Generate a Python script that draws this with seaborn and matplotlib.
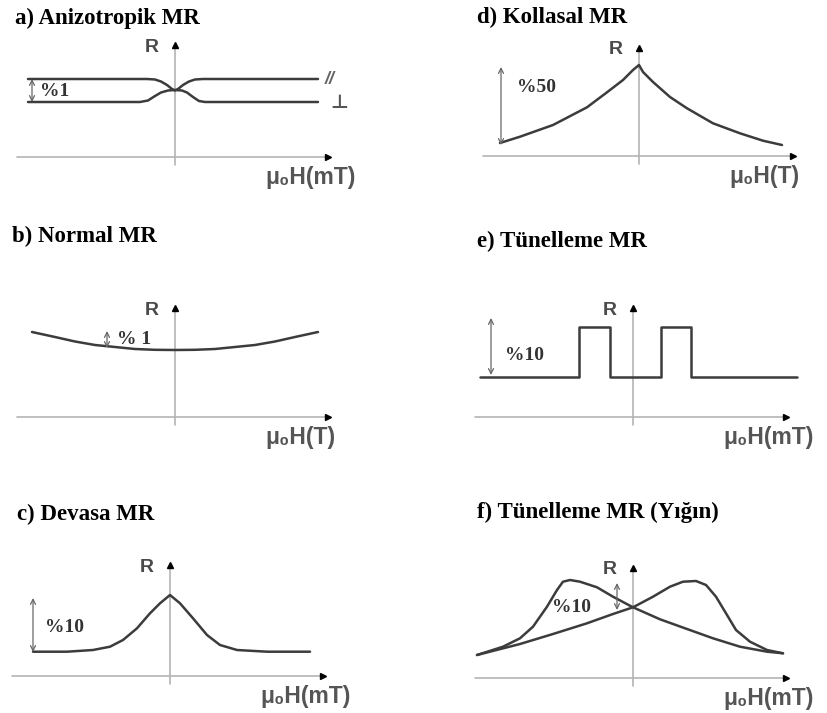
import matplotlib
matplotlib.use('Agg')
import matplotlib.pyplot as plt
import seaborn as sns

# ---- data (field H and resistance R, arbitrary units) ----
# a) anisotropic MR: parallel and perpendicular branches
a_par_h = [-1.47, -0.28, -0.20, -0.14, -0.08, -0.03, 0.0, 0.03, 0.08, 0.14, 0.20, 0.28, 1.43]
a_par_r = [0.78, 0.78, 0.775, 0.755, 0.72, 0.68, 0.665, 0.68, 0.72, 0.755, 0.775, 0.78, 0.78]
a_perp_h = [-1.47, -0.35, -0.27, -0.20, -0.14, -0.07, 0.0, 0.07, 0.12, 0.18, 0.24, 0.30, 1.43]
a_perp_r = [0.55, 0.55, 0.565, 0.61, 0.645, 0.665, 0.67, 0.665, 0.645, 0.60, 0.56, 0.55, 0.55]

# b) ordinary MR
b_h = [-1.43, -1.2, -1.0, -0.8, -0.6, -0.4, -0.2, 0.0, 0.2, 0.4, 0.6, 0.8, 1.0, 1.2, 1.43]
b_r = [0.85, 0.80, 0.755, 0.72, 0.70, 0.68, 0.672, 0.67, 0.672, 0.68, 0.70, 0.72, 0.755, 0.80, 0.85]

# c) giant MR
c_h = [-1.37, -1.03, -0.77, -0.60, -0.47, -0.33, -0.20, -0.10, 0.0,
       0.10, 0.23, 0.37, 0.50, 0.67, 0.97, 1.40]
c_r = [0.243, 0.243, 0.26, 0.293, 0.36, 0.477, 0.627, 0.727, 0.81,
       0.727, 0.577, 0.41, 0.31, 0.26, 0.243, 0.243]

# d) colossal MR
d_h = [-1.39, -1.19, -0.86, -0.52, -0.32, -0.16, -0.06, 0.0,
       0.04, 0.14, 0.31, 0.48, 0.74, 1.01, 1.24, 1.43]
d_r = [0.13, 0.193, 0.31, 0.487, 0.637, 0.76, 0.86, 0.91,
       0.84, 0.74, 0.59, 0.477, 0.327, 0.227, 0.153, 0.11]

# e) tunnelling MR
e_h = [-1.53, -0.54, -0.54, -0.23, -0.23, 0.28, 0.28, 0.58, 0.58, 1.64]
e_r = [0.40, 0.40, 0.90, 0.90, 0.40, 0.40, 0.90, 0.90, 0.40, 0.40]

# f) tunnelling MR (bulk): two sweep directions
f_left_h = [-1.56, -1.30, -1.13, -1.00, -0.86, -0.76, -0.70, -0.63, -0.53, -0.36,
            -0.20, 0.0, 0.27, 0.54, 0.80, 1.07, 1.34, 1.50]
f_left_r = [0.23, 0.313, 0.397, 0.513, 0.713, 0.88, 0.963, 0.98, 0.963, 0.907,
            0.813, 0.707, 0.587, 0.49, 0.397, 0.313, 0.263, 0.247]
f_right_h = [-1.56, -1.13, -0.80, -0.46, -0.20, 0.0, 0.20, 0.37, 0.50, 0.63,
             0.73, 0.83, 0.93, 1.03, 1.17, 1.34, 1.50]
f_right_r = [0.23, 0.34, 0.44, 0.547, 0.64, 0.707, 0.813, 0.913, 0.963, 0.97,
             0.93, 0.813, 0.647, 0.48, 0.363, 0.28, 0.247]

titles = ['a) Anizotropik MR', 'b) Normal MR', 'c) Devasa MR',
          'd) Kollasal MR', 'e) Tünelleme MR', 'f) Tünelleme MR (Yığın)']
x_units = ['μ₀H(mT)', 'μ₀H(T)', 'μ₀H(mT)', 'μ₀H(T)', 'μ₀H(mT)', 'μ₀H(mT)']
ratios = ['%1', '% 1', '%10', '%50', '%10', '%10']

# ---- layout ----
W, H = 827, 713
S = 100.0
CURVE = '#3c3c3c'
AXIS = '#b4b4b4'
SANS = ['Liberation Sans', 'DejaVu Sans']

sns.set_style('white')
fig = plt.figure(figsize=(W / 100, H / 100), dpi=100)


def add_panel(cx, cy):
    x0, x1, y0, y1 = -1.8, 1.8, -0.25, 1.25
    ax = fig.add_axes([(cx + x0 * S) / W, 1 - (cy - y0 * S) / H,
                       (x1 - x0) * S / W, (y1 - y0) * S / H])
    ax.set_xlim(x0, x1)
    ax.set_ylim(y0, y1)
    ax.axis('off')
    return ax


def draw_axes(ax, left, right, top, unit):
    ax.plot([left, right], [0, 0], color=AXIS, lw=1.2, zorder=1)
    ax.plot([0, 0], [-0.08, top], color=AXIS, lw=1.2, zorder=1)
    ax.plot(right + 0.03, 0, marker='>', ms=5, color='black', zorder=3)
    ax.plot(0, top + 0.02, marker='^', ms=5, color='black', zorder=3)
    ax.text(-0.16, top, 'R', ha='right', va='center', fontsize=14,
            fontweight='bold', color='#4a4a4a', family=SANS)
    ax.text(0.90, -0.09, unit, ha='left', va='top', fontsize=16.5,
            fontweight='bold', color='#555555', family=SANS)


def ratio_arrow(ax, x, lo, hi, label, tx, ty):
    ax.annotate('', xy=(x, hi), xytext=(x, lo),
                arrowprops=dict(arrowstyle='<->', color='#666666', lw=0.9,
                                mutation_scale=9, shrinkA=0, shrinkB=0))
    ax.text(tx, ty, label, ha='left', va='center', fontsize=14,
            fontweight='bold', color='#333333', family='Liberation Serif')


def curve(ax, h, r):
    sns.lineplot(x=h, y=r, ax=ax, color=CURVE, lw=1.8, sort=False,
                 estimator=None, legend=False, zorder=2)


origins = [(175, 157), (175, 417), (170, 676), (639, 156), (633, 417), (633, 678)]
title_pos = [(15, 24), (12, 242), (17, 520), (477, 23), (477, 247), (477, 518)]
axis_top = [1.10, 1.07, 1.09, 1.06, 1.07, 1.08]
axis_ext = [(-1.58, 1.50), (-1.58, 1.50), (-1.58, 1.50),
            (-1.56, 1.51), (-1.58, 1.50), (-1.58, 1.50)]

axes = []
for i, (cx, cy) in enumerate(origins):
    ax = add_panel(cx, cy)
    draw_axes(ax, axis_ext[i][0], axis_ext[i][1], axis_top[i], x_units[i])
    fig.text(title_pos[i][0] / W, 1 - title_pos[i][1] / H, titles[i],
             ha='left', va='baseline', fontsize=16.5, fontweight='bold',
             family='Liberation Serif', color='black')
    axes.append(ax)

ax_a, ax_b, ax_c, ax_d, ax_e, ax_f = axes

# a)
curve(ax_a, a_par_h, a_par_r)
curve(ax_a, a_perp_h, a_perp_r)
ax_a.text(1.50, 0.78, '//', ha='left', va='center', fontsize=13,
          color='#666666', style='italic', fontweight='bold', family=SANS)
ax_a.text(1.55, 0.54, '⊥', ha='left', va='center', fontsize=14,
          color='#555555', fontweight='bold', family='DejaVu Sans')
ratio_arrow(ax_a, -1.43, 0.55, 0.78, ratios[0], -1.35, 0.65)

# b)
curve(ax_b, b_h, b_r)
ratio_arrow(ax_b, -0.68, 0.69, 0.86, ratios[1], -0.58, 0.78)

# c)
curve(ax_c, c_h, c_r)
ratio_arrow(ax_c, -1.37, 0.24, 0.78, ratios[2], -1.25, 0.49)

# d)
curve(ax_d, d_h, d_r)
ratio_arrow(ax_d, -1.38, 0.11, 0.89, ratios[3], -1.22, 0.68)

# e)
curve(ax_e, e_h, e_r)
ratio_arrow(ax_e, -1.42, 0.42, 0.99, ratios[4], -1.28, 0.62)

# f)
curve(ax_f, f_left_h, f_left_r)
curve(ax_f, f_right_h, f_right_r)
ratio_arrow(ax_f, -0.16, 0.68, 0.95, ratios[5], -0.81, 0.71)

fig.savefig('out.png', dpi=100)
